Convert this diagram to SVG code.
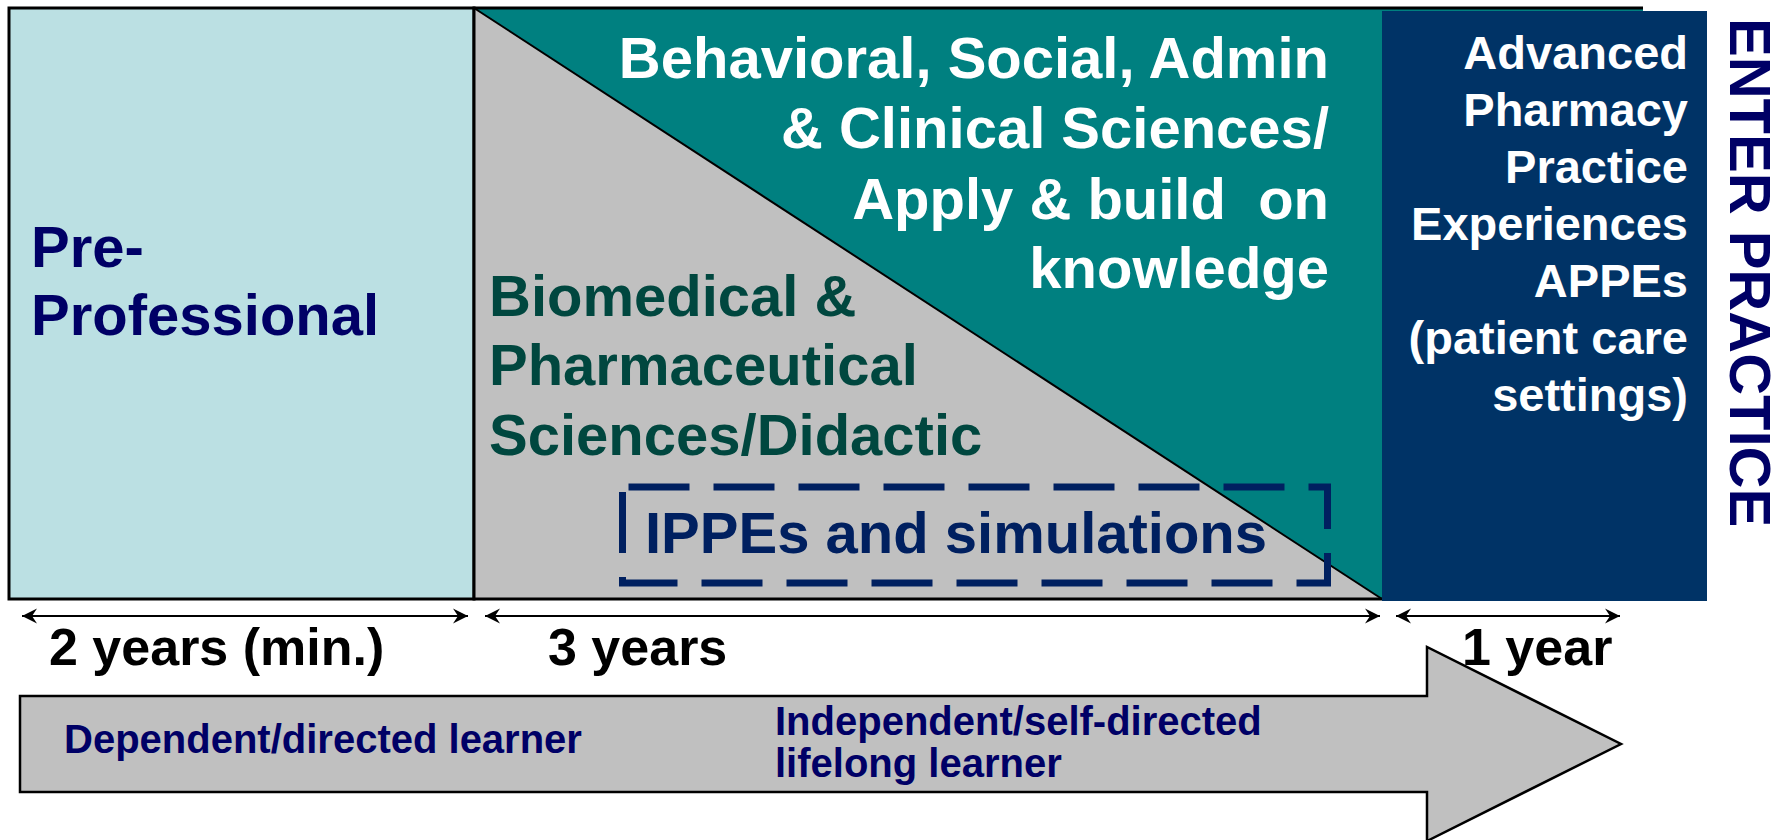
<svg xmlns="http://www.w3.org/2000/svg" width="1783" height="840" viewBox="0 0 1783 840">
<style>
  text { font-family: "Liberation Sans", Arial, sans-serif; font-weight: bold; }
  .big { font-size: 58px; }
  .mid { font-size: 47px; }
  .dim { font-size: 52px; fill: #000000; }
  .small { font-size: 40px; fill: #000066; }
  .dimline { stroke: #000000; stroke-width: 2; fill: none; marker-start: url(#ah); marker-end: url(#ah); }
</style>
<defs>
  <marker id="ah" viewBox="0 0 16 16" refX="15" refY="8" markerWidth="16" markerHeight="16" markerUnits="userSpaceOnUse" orient="auto-start-reverse">
    <path d="M15,8 L0,0.5 L5,8 L0,15.5 Z" fill="#000000"/>
  </marker>
</defs>
<rect width="1783" height="840" fill="#ffffff"/>

<g id="pre-professional">
  <rect x="9" y="8" width="465" height="591" fill="#BBE0E3" stroke="#000000" stroke-width="3"/>
  <text class="big" x="31" y="267" fill="#000066">Pre-</text>
  <text class="big" x="31" y="335" fill="#000066">Professional</text>
</g>

<g id="didactic">
  <polygon points="474,8 1643,8 1643,599 1382,599" fill="#008080"/>
  <polygon points="474,8 1382,599 474,599" fill="#C0C0C0"/>
  <line x1="474" y1="8" x2="1382" y2="599" stroke="#000000" stroke-width="2"/>
  <polyline points="1382,599 474,599 474,8 1643,8" fill="none" stroke="#000000" stroke-width="3"/>
  <text class="big" text-anchor="end" fill="#ffffff" x="1329" y="78">Behavioral, Social, Admin</text>
  <text class="big" text-anchor="end" fill="#ffffff" x="1329" y="148">&amp; Clinical Sciences/</text>
  <text class="big" text-anchor="end" fill="#ffffff" x="1329" y="219" style="white-space:pre">Apply &amp; build  on</text>
  <text class="big" text-anchor="end" fill="#ffffff" x="1329" y="288">knowledge</text>
  <text class="big" fill="#00473F"><tspan x="489" y="316">Biomedical &amp;</tspan><tspan x="489" y="385">Pharmaceutical</tspan><tspan x="489" y="455">Sciences/Didactic</tspan></text>
</g>

<g id="ippes">
  <rect x="622.5" y="487" width="705" height="96" fill="none" stroke="#002060" stroke-width="7" stroke-dasharray="61 24" stroke-dashoffset="79"/>
  <text class="big" x="645" y="553" fill="#002060">IPPEs and simulations</text>
</g>

<g id="appe">
  <rect x="1382" y="11" width="325" height="590" fill="#003366"/>
  <text class="mid" text-anchor="end" fill="#ffffff"><tspan x="1688" y="69">Advanced</tspan><tspan x="1688" y="126">Pharmacy</tspan><tspan x="1688" y="183">Practice</tspan><tspan x="1688" y="240">Experiences</tspan><tspan x="1688" y="297">APPEs</tspan><tspan x="1688" y="354">(patient care</tspan><tspan x="1688" y="411">settings)</tspan></text>
</g>

<g id="enter-practice">
  <text class="big" fill="#000066" transform="translate(1730,18) rotate(90)">ENTER PRACTICE</text>
</g>

<g id="connectors">
  <line class="dimline" x1="22" y1="616" x2="468" y2="616"/>
  <line class="dimline" x1="485" y1="616" x2="1380" y2="616"/>
  <line class="dimline" x1="1396" y1="616" x2="1620" y2="616"/>
</g>

<g id="durations">
  <text class="dim" x="49" y="665">2 years (min.)</text>
  <text class="dim" x="548" y="665">3 years</text>
  <text class="dim" x="1462" y="665">1 year</text>
</g>

<g id="learner-arrow">
  <polygon points="20,696 1427,696 1427,647 1621,744 1427,841 1427,792 20,792" fill="#C0C0C0" stroke="#000000" stroke-width="2.5"/>
  <text class="small" x="64" y="753">Dependent/directed learner</text>
  <text class="small"><tspan x="775" y="735">Independent/self-directed</tspan><tspan x="775" y="777">lifelong learner</tspan></text>
</g>
</svg>
